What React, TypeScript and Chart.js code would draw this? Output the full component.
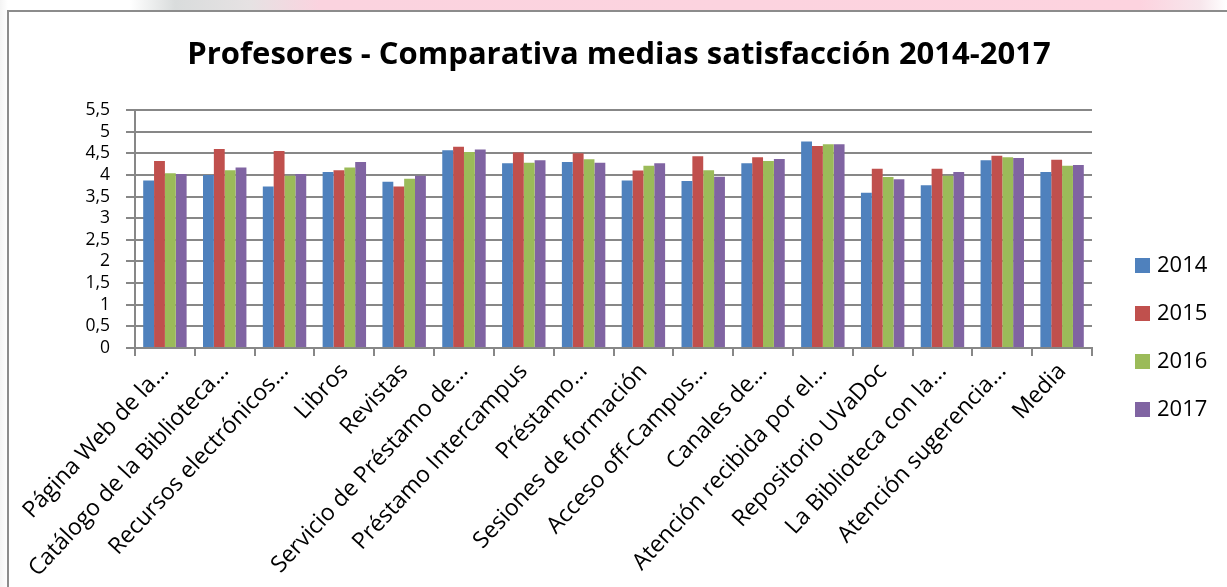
import React, { useEffect, useRef } from "react";
import { Chart, registerables } from "chart.js";

Chart.register(...registerables);

const categories = [
  "Página Web de la...",
  "Catálogo de la Biblioteca...",
  "Recursos electrónicos...",
  "Libros",
  "Revistas",
  "Servicio de Préstamo de...",
  "Préstamo Intercampus",
  "Préstamo...",
  "Sesiones de formación",
  "Acceso off-Campus...",
  "Canales de...",
  "Atención recibida por el...",
  "Repositorio UVaDoc",
  "La Biblioteca con la...",
  "Atención sugerencia...",
  "Media",
];

const seriesNames = ["2014", "2015", "2016", "2017"];
const values2014 = [3.87, 4.0, 3.73, 4.07, 3.84, 4.57, 4.27, 4.3, 3.87, 3.86, 4.27, 4.77, 3.59, 3.76, 4.34, 4.07];
const values2015 = [4.32, 4.6, 4.55, 4.11, 3.73, 4.65, 4.52, 4.5, 4.1, 4.43, 4.41, 4.67, 4.14, 4.14, 4.44, 4.35];
const values2016 = [4.04, 4.11, 3.98, 4.17, 3.91, 4.53, 4.28, 4.36, 4.21, 4.11, 4.32, 4.71, 3.95, 3.98, 4.41, 4.21];
const values2017 = [4.02, 4.17, 4.02, 4.3, 3.98, 4.59, 4.34, 4.28, 4.27, 3.96, 4.37, 4.71, 3.9, 4.07, 4.39, 4.23];
const seriesColors = ["#4F81BD", "#C0504D", "#9BBB59", "#8064A2"];

const yMin = 0;
const yMax = 5.5;
const yStep = 0.5;

const titleText = "Profesores - Comparativa medias satisfacción 2014-2017";

const W = 1227;
const H = 587;
const GRID = "#878787";

const customTitle = {
  id: "customTitle",
  afterDraw(chart: any) {
    const ctx = chart.ctx;
    ctx.save();
    ctx.font = "bold 31px 'Open Sans'";
    ctx.fillStyle = "#000";
    ctx.textAlign = "center";
    ctx.textBaseline = "middle";
    ctx.fillText(titleText, 619, 55);
    ctx.restore();
  },
};

const customLegend = {
  id: "customLegend",
  afterDraw(chart: any) {
    const ctx = chart.ctx;
    ctx.save();
    ctx.font = "22px 'Open Sans'";
    ctx.textBaseline = "middle";
    ctx.textAlign = "left";
    chart.data.datasets.forEach((ds: any, i: number) => {
      const y = 258 + i * 48;
      ctx.fillStyle = ds.backgroundColor;
      ctx.fillRect(1135, y, 15, 15);
      ctx.fillStyle = "#000";
      ctx.fillText(ds.label, 1157, y + 8);
    });
    ctx.restore();
  },
};

export default function App() {
  const ref = useRef<HTMLCanvasElement | null>(null);

  useEffect(() => {
    if (!ref.current) return;
    const series = [values2014, values2015, values2016, values2017];
    const chart = new Chart(ref.current, {
      type: "bar",
      data: {
        labels: categories,
        datasets: seriesNames.map((name, i) => ({
          label: name,
          data: series[i],
          backgroundColor: seriesColors[i],
          borderWidth: 0,
          categoryPercentage: 0.726,
          barPercentage: 1,
        })),
      },
      options: {
        responsive: false,
        animation: false,
        devicePixelRatio: 1,
        layout: { padding: { left: 0, right: 135, top: 110, bottom: 0 } },
        plugins: {
          legend: { display: false },
          tooltip: { enabled: false },
          title: { display: false },
        },
        scales: {
          x: {
            offset: true,
            grid: {
              offset: true,
              drawOnChartArea: false,
              drawTicks: true,
              tickLength: 8,
              color: GRID,
              lineWidth: 2,
            },
            border: { display: true, color: GRID, width: 2 },
            ticks: {
              autoSkip: false,
              minRotation: 47,
              maxRotation: 47,
              padding: 2,
              color: "#000",
              font: { family: "'Open Sans'", size: 23 },
            },
            afterFit(scale: any) {
              scale.height = 239;
            },
          },
          y: {
            min: yMin,
            max: yMax,
            ticks: {
              stepSize: yStep,
              autoSkip: false,
              padding: 16,
              color: "#000",
              font: { family: "'Open Sans'", size: 17.5 },
              callback: (v: any) => String(v).replace(".", ","),
            },
            grid: { color: GRID, lineWidth: 2, tickLength: 9 },
            border: { display: true, color: GRID, width: 2 },
            afterFit(scale: any) {
              scale.width = 135;
            },
          },
        },
      },
      plugins: [customTitle, customLegend],
    });
    return () => chart.destroy();
  }, []);

  return (
    <div style={{ position: "fixed", left: 0, top: 0, width: W, height: H, overflow: "hidden", background: "#fff" }}>
      <div
        style={{
          position: "absolute",
          left: 0,
          top: 0,
          width: W,
          height: 12,
          background:
            "linear-gradient(to right, #ffffff 0px, #ffffff 130px, #d9dcdc 175px, #e6e2e3 250px, #fbd3df 320px, #fdd3df 1140px, #f7e6ec 1200px, #ffffff 1227px)",
        }}
      />
      <div
        style={{
          position: "absolute",
          left: 0,
          top: 0,
          width: 8,
          height: H,
          background: "linear-gradient(to right, #f4f4f4, #ffffff)",
        }}
      />
      <div
        style={{
          position: "absolute",
          left: 7,
          top: 10,
          width: W,
          height: H,
          borderLeft: "2px solid #8c8c8c",
          borderTop: "2px solid #8c8c8c",
          background: "#fff",
        }}
      />
      <canvas ref={ref} width={W} height={H} style={{ position: "absolute", left: 0, top: 0 }} />
    </div>
  );
}
